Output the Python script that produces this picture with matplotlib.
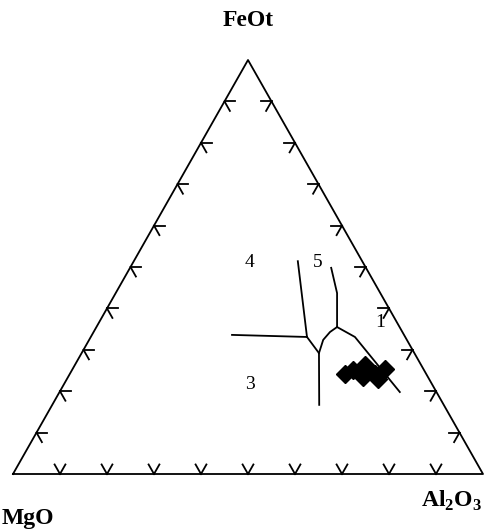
import numpy as np
import matplotlib
matplotlib.use("Agg")
import matplotlib.pyplot as plt

# ---- Data (fractions: MgO, FeOt, Al2O3) ----
# field boundaries of the MgO-FeOt-Al2O3 diagram
line_34 = {"mg": [0.366, 0.209], "fe": [0.336, 0.331], "al": [0.298, 0.460]}
line_45 = {"mg": [0.137, 0.209], "fe": [0.514, 0.331], "al": [0.349, 0.460]}
line_mid = {"mg": [0.209, 0.203, 0.265], "fe": [0.331, 0.292, 0.167], "al": [0.460, 0.505, 0.568]}
line_arc = {"mg": [0.203, 0.178, 0.154, 0.133], "fe": [0.292, 0.324, 0.343, 0.355],
            "al": [0.505, 0.498, 0.503, 0.512]}
line_51 = {"mg": [0.133, 0.092, 0.074], "fe": [0.355, 0.437, 0.498], "al": [0.512, 0.471, 0.428]}
line_13 = {"mg": [0.133, 0.107, 0.078], "fe": [0.355, 0.331, 0.198], "al": [0.512, 0.562, 0.724]}
field_lines = [line_34, line_45, line_mid, line_arc, line_51, line_13]

# samples
sample_mg = [0.173, 0.151, 0.120, 0.138, 0.109, 0.082, 0.109]
sample_fe = [0.242, 0.251, 0.263, 0.234, 0.242, 0.254, 0.229]
sample_al = [0.585, 0.598, 0.617, 0.628, 0.649, 0.664, 0.662]

field_labels = ["4", "5", "1", "3"]
label_mg = [0.240, 0.095, 0.036, 0.388]
label_fe = [0.512, 0.512, 0.367, 0.215]
label_al = [0.248, 0.393, 0.597, 0.397]

grid_steps = np.arange(1, 10) / 10.0
TICK_LEN = 0.023


def to_xy(mg, fe, al):
    mg, fe, al = np.asarray(mg), np.asarray(fe), np.asarray(al)
    tot = mg + fe + al
    fe, al = fe / tot, al / tot
    return al + fe / 2.0, fe


plt.rcParams["mathtext.fontset"] = "custom"
plt.rcParams["mathtext.bf"] = "Liberation Serif:bold"
plt.rcParams["mathtext.rm"] = "Liberation Serif:bold"

fig = plt.figure(figsize=(4.84, 5.32), dpi=100)
ax = fig.add_axes([13 / 484, (532 - 474) / 532, 470 / 484, 414 / 532])
ax.set_xlim(0, 1)
ax.set_ylim(0, 1)
ax.axis("off")

lw = 1.3
# outline
x, y = to_xy([1, 0, 0, 1], [0, 1, 0, 0], [0, 0, 1, 0])
ax.plot(x, y, color="black", lw=lw, clip_on=False)

# chevron ticks: at each edge point, arms step into the missing component
for t in grid_steps:
    edges = [
        np.array([1 - t, 0.0, t]),   # bottom (fe = 0)
        np.array([1 - t, t, 0.0]),   # left (al = 0)
        np.array([0.0, t, 1 - t]),   # right (mg = 0)
    ]
    for p in edges:
        k = int(np.argmin(p))
        for j in range(3):
            if j == k:
                continue
            q = p.copy()
            q[k] += TICK_LEN
            q[j] -= TICK_LEN
            x, y = to_xy([p[0], q[0]], [p[1], q[1]], [p[2], q[2]])
            ax.plot(x, y, color="black", lw=lw, clip_on=False)

# samples
x, y = to_xy(sample_mg, sample_fe, sample_al)
ax.plot(x, y, "D", color="black", markersize=9.5, zorder=3, clip_on=False)

# field boundaries
for ln in field_lines:
    x, y = to_xy(ln["mg"], ln["fe"], ln["al"])
    ax.plot(x, y, color="black", lw=lw, zorder=4, solid_joinstyle="round")

x, y = to_xy(label_mg, label_fe, label_al)
for lab, lx, ly in zip(field_labels, x, y):
    ax.text(lx, ly, lab, ha="center", va="center", fontsize=14,
            family="Liberation Serif")

# apex labels
fig.text(248 / 484, 1 - 20 / 532, "FeOt", ha="center", va="center", fontsize=17,
         family="Liberation Serif", weight="bold")
fig.text(2 / 484, 1 - 524 / 532, "MgO", ha="left", va="baseline", fontsize=17,
         family="Liberation Serif", weight="bold")
fig.text(421 / 484, 1 - 507 / 532, "Al$_2$O$_3$", ha="left", va="baseline", fontsize=17,
         family="Liberation Serif", weight="bold")

fig.savefig("out.png", dpi=100)
